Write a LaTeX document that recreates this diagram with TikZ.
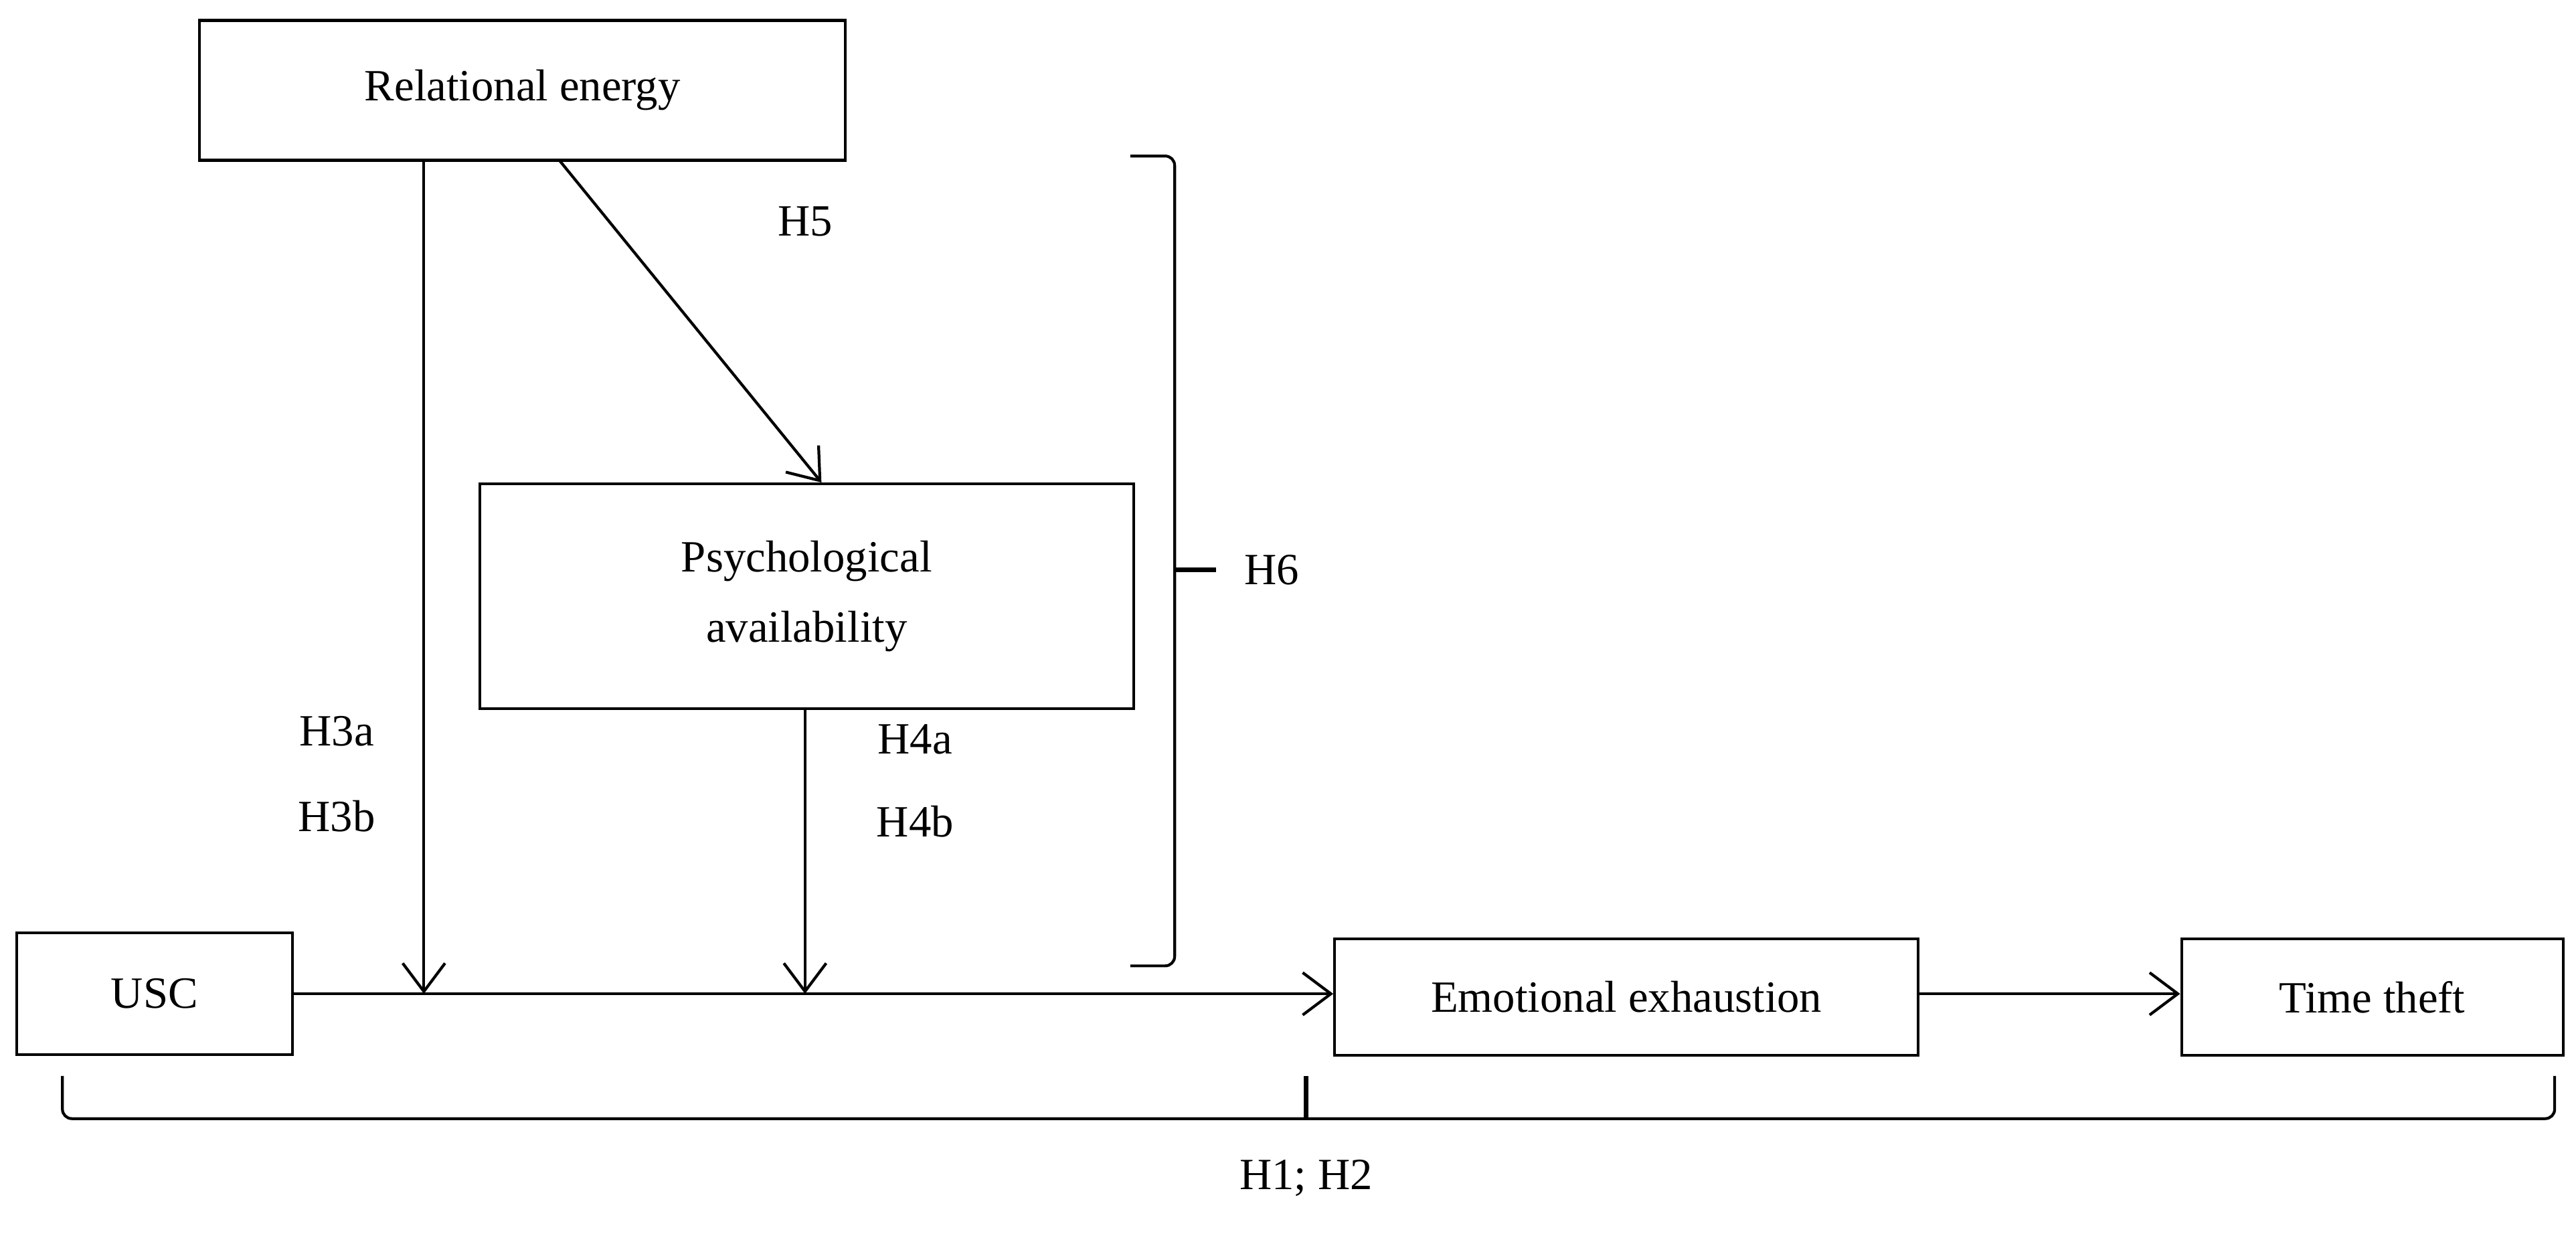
\documentclass[tikz,border=0pt]{standalone}
\usepackage{fontspec}
\setmainfont{Liberation Serif}
\usetikzlibrary{arrows.meta}
\begin{document}
\begin{tikzpicture}[x=0.02455cm, y=-0.02455cm, line width=1.2pt,
            box/.style={rectangle, draw, text centered, font=\fontsize{19}{30}\selectfont},
            arrow/.style={-{Straight Barb[length=12pt,width=18pt]}},
            lbl/.style={font=\fontsize{19}{24}\selectfont}
            ]
            \useasboundingbox (0,0) rectangle (1568,757);

            % Constructs
            \node[box, minimum width=9.65cm, minimum height=2.09cm] (energy) at (318,55) {Relational energy};
            \node[box, minimum width=9.77cm, minimum height=3.36cm, text width=5cm] (avail) at (491,363) {Psychological\\availability};
            \node[box, minimum width=4.12cm, minimum height=1.82cm] (usc) at (94,605) {USC};
            \node[box, minimum width=8.72cm, minimum height=1.74cm] (exhaust) at (990,607) {Emotional exhaustion};
            \node[box, minimum width=5.7cm, minimum height=1.74cm] (theft) at (1444,607) {Time theft};

            % Junctions on the main path
            \coordinate (j1) at (258,605);
            \coordinate (j2) at (490,605);

            % Arrows
            \draw[arrow] (usc.east |- j1) -- (exhaust.west |- j1);
            \draw[arrow] (exhaust.east |- j1) -- (theft.west |- j1);
            \draw[arrow] (energy.south -| j1) -- (j1);
            \draw[arrow] (avail.south -| j2) -- (j2);
            \draw[arrow] (340,97) -- (avail.north -| 500,0);

            % Labels
            \node[lbl] (h5) at (490,135) {H5};
            \node[lbl] (h3a) at (205,445) {H3a};
            \node[lbl] (h3b) at (205,497) {H3b};
            \node[lbl] (h4a) at (557,450) {H4a};
            \node[lbl] (h4b) at (557,500) {H4b};
            \node[lbl, anchor=west] (h6) at (752,347) {H6};
            \node[lbl] (h12) at (795,717) {H1; H2};

            % Brackets
            \draw[rounded corners=4pt] (688,95) -- (715,95) -- (715,588) -- (688,588);
            \draw[line width=2pt] (715,347) -- (740,347);
            \draw[rounded corners=4pt] (38,655) -- (38,681) -- (1555,681) -- (1555,655);
            \draw[line width=2pt] (795,681) -- (795,655);

        \end{tikzpicture}
\end{document}
